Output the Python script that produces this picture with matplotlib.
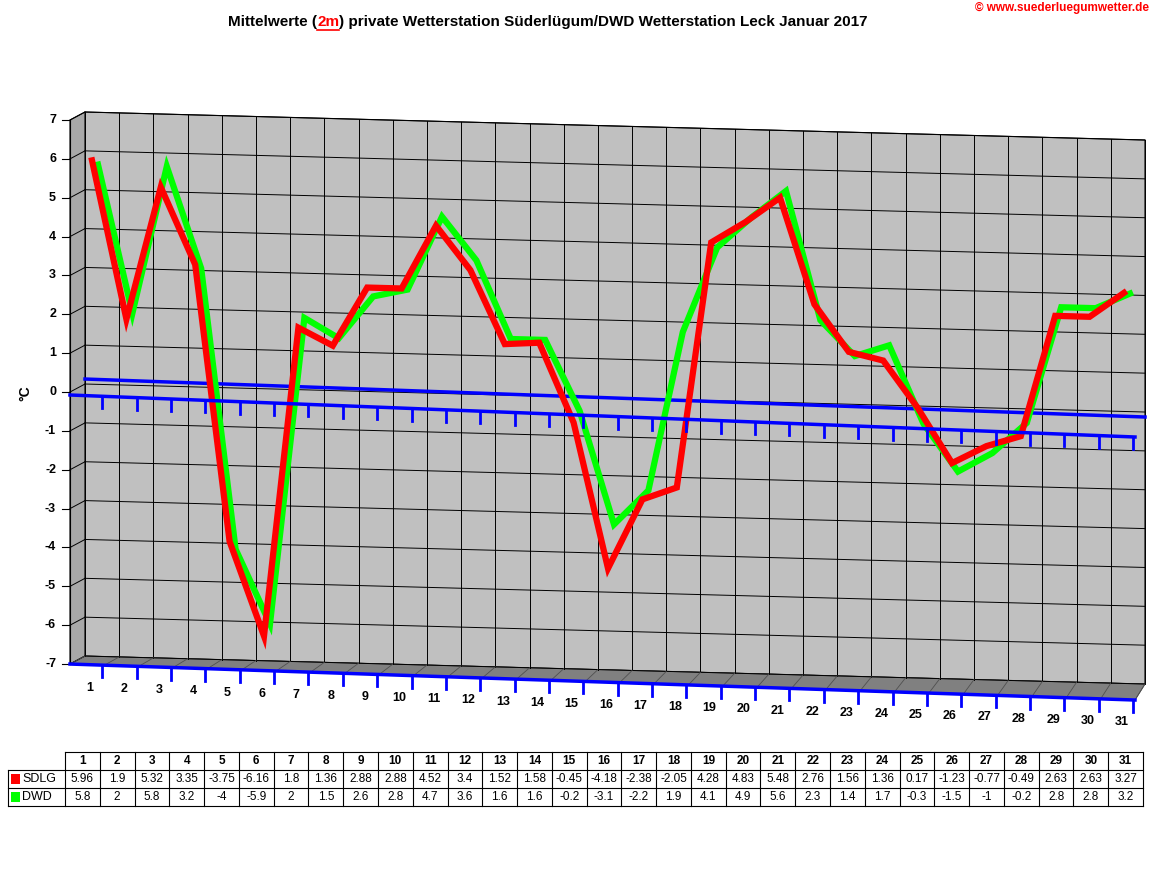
import numpy as np
import matplotlib.pyplot as plt
from matplotlib.patches import Polygon, Rectangle

plt.rcParams['font.family'] = ['Liberation Sans', 'DejaVu Sans']

days = np.arange(1, 32)
sdlg = [5.96, 1.9, 5.32, 3.35, -3.75, -6.16, 1.8, 1.36, 2.88, 2.88, 4.52, 3.4, 1.52, 1.58, -0.45, -4.18,
        -2.38, -2.05, 4.28, 4.83, 5.48, 2.76, 1.56, 1.36, 0.17, -1.23, -0.77, -0.49, 2.63, 2.63, 3.27]
dwd = [5.8, 2, 5.8, 3.2, -4, -5.9, 2, 1.5, 2.6, 2.8, 4.7, 3.6, 1.6, 1.6, -0.2, -3.1,
       -2.2, 1.9, 4.1, 4.9, 5.6, 2.3, 1.4, 1.7, -0.3, -1.5, -1, -0.2, 2.8, 2.8, 3.2]
yticks = np.arange(-7, 8)

# pseudo-3D projection in pixel space
PX = 38.86          # pixels per degree
DX = 34.4           # pixels per day
SLOPE = 0.93        # drop per day (pixels)

def px(d):
    return 92 + (np.asarray(d) - 1) * DX

def py(v, d):
    return 120 + (7 - np.asarray(v)) * PX + (np.asarray(d) - 1) * SLOPE

fig = plt.figure(figsize=(11.52, 8.82), dpi=100)
ax = fig.add_axes([0, 0, 1, 1])
ax.set_xlim(0, 1152)
ax.set_ylim(882, 0)
ax.axis('off')

# back wall
bx0, bx1, by0, drop = 85, 1145, 112, 28
ax.add_patch(Polygon([[bx0, by0], [bx1, by0 + drop], [bx1, by0 + drop + 14 * PX], [bx0, by0 + 14 * PX]],
                     closed=True, fc='#c0c0c0', ec='black', lw=0.8, zorder=1))
# left side wall
ax.add_patch(Polygon([[70, 120], [bx0, by0], [bx0, by0 + 14 * PX], [70, 120 + 14 * PX]],
                     closed=True, fc='#a8a8a8', ec='black', lw=0.8, zorder=1))
for v in yticks:
    yl = by0 + (7 - v) * PX
    ax.plot([bx0, bx1], [yl, yl + drop], color='black', lw=0.7, zorder=2)
    ax.plot([70, bx0], [120 + (7 - v) * PX, yl], color='black', lw=0.7, zorder=2)
    ax.plot([62, 70], [120 + (7 - v) * PX] * 2, color='black', lw=0.8, zorder=2)
    ax.text(56, 120 + (7 - v) * PX, str(v), ha='right', va='center', fontsize=9, fontweight='bold')
ncol = 31
for i in range(ncol + 1):
    x = bx0 + i * (bx1 - bx0) / ncol
    yt = by0 + drop * (x - bx0) / (bx1 - bx0)
    ax.plot([x, x], [yt, yt + 14 * PX], color='black', lw=0.7, zorder=2)
ax.plot([70, 70], [120, 120 + 14 * PX], color='black', lw=0.8, zorder=2)

# floor
fy0 = 120 + 14 * PX
ax.add_patch(Polygon([[70, fy0], [bx0, by0 + 14 * PX], [bx1, by0 + 14 * PX + drop], [1135, fy0 + 36]],
                     closed=True, fc='#808080', ec='#404040', lw=0.6, zorder=1))
for i in range(ncol + 1):
    xf = 70 + i * (1135 - 70) / ncol
    xb = bx0 + i * (bx1 - bx0) / ncol
    ax.plot([xf, xb], [fy0 + 36 * i / ncol, by0 + 14 * PX + drop * i / ncol], color='#505050', lw=0.6, zorder=2)
ax.plot([70, 1135], [fy0, fy0 + 36], color='blue', lw=2.5, zorder=3)
for i in range(ncol):
    xf = 70 + (i + 1) * (1135 - 70) / ncol - 2
    yf = fy0 + 36 * (i + 1) / ncol
    ax.plot([xf, xf], [yf, yf + 12], color='blue', lw=2, zorder=3)
    ax.text(90 + i * 34.4, 688 + i * 1.13, str(days[i]), ha='center', va='center',
            fontsize=9, fontweight='bold')

# zero lines
ax.plot([bx0, bx1], [by0 + 7 * PX - 5, by0 + 7 * PX + drop + 5], color='blue', lw=2.5, zorder=3)
ax.plot([70, 1135], [395, 437], color='blue', lw=2.5, zorder=5)
for i in range(ncol):
    xf = 70 + (i + 1) * (1135 - 70) / ncol - 2
    yf = 395 + 42 * (i + 1) / ncol
    ax.plot([xf, xf], [yf, yf + 12], color='blue', lw=2, zorder=5)

# series
ax.plot(px(days) + 6, py(dwd, days) - 2, color='#00ff00', lw=4.5, zorder=4, solid_joinstyle='miter')
ax.plot(px(days), py(sdlg, days), color='#ff0000', lw=4.5, zorder=4, solid_joinstyle='miter')

ax.text(25, 393, '°C', rotation=90, ha='center', va='center', fontsize=10, fontweight='bold')

# title, built from pieces placed one after another
renderer = fig.canvas.get_renderer()
x = 228
for part, col in [('Mittelwerte (', 'black'), ('2m', 'red'),
                  (') private Wetterstation Süderlügum/DWD Wetterstation Leck Januar 2017', 'black')]:
    t = ax.text(x, 22, part, ha='left', va='center', fontsize=11, fontweight='bold', color=col)
    bb = t.get_window_extent(renderer)
    w = bb.width * 1152 / fig.bbox.width
    if col == 'red':
        ax.plot([x, x + w], [30, 30], color='red', lw=1.2)
    x += w
ax.text(1149, 8, '© www.suederluegumwetter.de', ha='right', va='center', fontsize=8.5,
        fontweight='bold', color='red')

# data table
tx0, cw, ty = 65, (1143 - 65) / 31, [752, 770, 788, 806]
ax.plot([tx0, 1143], [ty[0]] * 2, color='black', lw=0.8)
for y in ty[1:]:
    ax.plot([8, 1143], [y, y], color='black', lw=0.8)
ax.plot([8, 8], [ty[1], ty[3]], color='black', lw=0.8)
for i in range(32):
    xx = tx0 + i * cw
    ax.plot([xx, xx], [ty[0], ty[3]], color='black', lw=0.8)
for i in range(31):
    xc = tx0 + (i + 0.5) * cw
    ax.text(xc, 761, str(days[i]), ha='center', va='center', fontsize=8.5, fontweight='bold')
    ax.text(xc, 779, '%g' % sdlg[i], ha='center', va='center', fontsize=8.5)
    ax.text(xc, 797, '%g' % dwd[i], ha='center', va='center', fontsize=8.5)
for row, name, col in [(779, 'SDLG', 'red'), (797, 'DWD', '#00ff00')]:
    ax.add_patch(Rectangle((11, row - 5), 9, 10, fc=col, ec='none'))
    ax.text(22, row, name, ha='left', va='center', fontsize=9)

fig.savefig('out.png', dpi=100, facecolor='white')
